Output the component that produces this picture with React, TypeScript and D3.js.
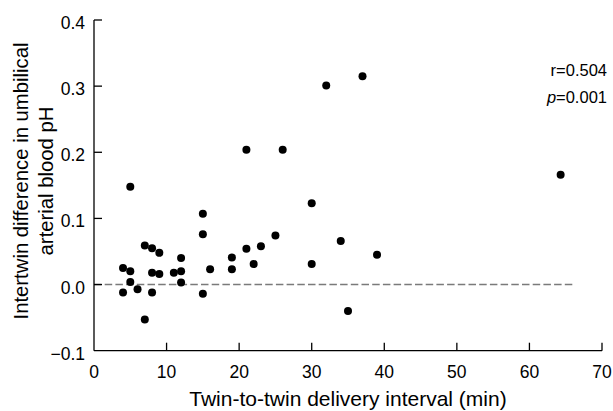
import React from "react";
import * as d3 from "d3";

const intervalMin = [4, 4, 5, 5, 5, 6, 7, 7, 8, 8, 8, 9, 9, 11, 12, 12, 12, 15, 15, 15, 16, 19, 19, 21, 21, 22, 23, 25, 26, 30, 30, 32, 34, 35, 37, 39, 64.3];
const phDiff = [-0.012, 0.025, 0.02, 0.004, 0.148, -0.007, 0.059, -0.053, 0.055, 0.018, -0.012, 0.048, 0.016, 0.018, 0.04, 0.02, 0.003, 0.107, 0.076, -0.014, 0.023, 0.041, 0.023, 0.204, 0.054, 0.031, 0.058, 0.074, 0.204, 0.123, 0.031, 0.301, 0.066, -0.04, 0.315, 0.045, 0.166];
const xTicks = [0, 10, 20, 30, 40, 50, 60, 70];
const yTicks = [-0.1, 0.0, 0.1, 0.2, 0.3, 0.4];
const yLabelLines = ["Intertwin difference in umbilical", "arterial blood pH"];
const xLabel = "Twin-to-twin delivery interval (min)";

const W = 613;
const H = 411;
const font = "'Liberation Sans', Arial, sans-serif";

export default function App() {
  const x = d3.scaleLinear().domain([0, 70]).range([94, 602]);
  const y = d3.scaleLinear().domain([-0.1, 0.4]).range([350.7, 20]);
  const x0 = x(0);
  const yB = y(-0.1);
  return (
    <svg width={W} height={H} style={{ position: "absolute", left: 0, top: 0, background: "#fff" }} fontFamily={font}>
      {/* reference line */}
      <line x1={x(0)} x2={x(66)} y1={y(0)} y2={y(0)} stroke="#7a7a7a" strokeWidth={1.5} strokeDasharray="7.5,3.2" />
      {/* axes */}
      <line x1={x0} x2={x0} y1={y(0.4)} y2={yB} stroke="#000" strokeWidth={1.3} />
      <line x1={x0} x2={x(70)} y1={yB} y2={yB} stroke="#000" strokeWidth={1.3} />
      {yTicks.map((t) => (
        <g key={"y" + t}>
          {t > -0.1 && <line x1={x0} x2={x0 + 8} y1={y(t)} y2={y(t)} stroke="#000" strokeWidth={1.3} />}
          <text x={85} y={y(t) + 9} textAnchor="end" fontSize={17.5} fill="#000">
            {d3.format(".1f")(t)}
          </text>
        </g>
      ))}
      {xTicks.map((t) => (
        <g key={"x" + t}>
          {t > 0 && <line x1={x(t)} x2={x(t)} y1={yB} y2={yB - 8} stroke="#000" strokeWidth={1.3} />}
          <text x={x(t)} y={378} textAnchor="middle" fontSize={17.5} fill="#000">
            {t}
          </text>
        </g>
      ))}
      {/* points */}
      {intervalMin.map((v, i) => (
        <circle key={i} cx={x(v)} cy={y(phDiff[i])} r={4} fill="#000" />
      ))}
      {/* labels */}
      <text x={x(35)} y={406} textAnchor="middle" fontSize={21} fill="#000">
        {xLabel}
      </text>
      {yLabelLines.map((s, i) => (
        <text key={s} transform={`translate(${28 + i * 25},181) rotate(-90)`} textAnchor="middle" fontSize={20.3} fill="#000">
          {s}
        </text>
      ))}
      <text x={607} y={76} textAnchor="end" fontSize={16.5} fill="#000">r=0.504</text>
      <text x={607} y={103} textAnchor="end" fontSize={16.5} fill="#000">
        <tspan fontStyle="italic">p</tspan>=0.001
      </text>
    </svg>
  );
}
